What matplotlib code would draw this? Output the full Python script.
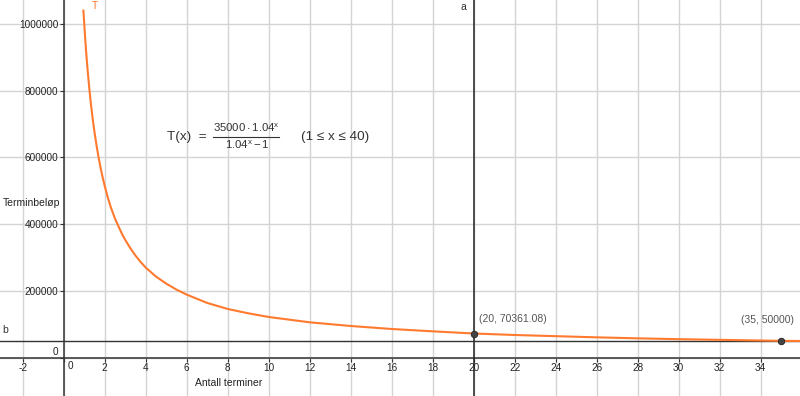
"""Terminbeløp T(x) plotted against antall terminer, GeoGebra style."""

import matplotlib

matplotlib.use("Agg")
import matplotlib.pyplot as plt

# Curve points (x = antall terminer, y = terminbeløp)
CURVE_X = [0.96, 1.0, 1.05, 1.1, 1.17, 1.25, 1.33, 1.42, 1.5, 1.6, 1.7, 1.8,
           1.9, 2.0, 2.15, 2.3, 2.5, 2.66, 2.85, 3.0, 3.25, 3.5, 3.75, 4,
           4.5, 5, 5.5, 6, 7, 8, 9, 10, 12, 14, 16, 18, 20, 22, 24, 26, 28,
           30, 32, 34, 35, 36]
CURVE_Y = [1040000, 1000000, 953000, 911000, 858000, 805000, 758000, 712000,
           676000, 636000, 600000, 568000, 540000, 514000, 480000, 450000,
           417000, 395000, 370000, 353000, 328000, 306000, 287000, 270000,
           243000, 222000, 204000, 189000, 164000, 146000, 133000, 122000,
           106000, 95000, 86000, 79000, 72500, 68000, 64500, 61000, 58000,
           55500, 53500, 51500, 50500, 50000]

# Marked points and their labels
POINTS_X = [20, 35]
POINTS_Y = [70361.08, 50000]
POINT_LABELS = ["(20, 70361.08)", "(35, 50000)"]

# Lines a (vertical) and b (horizontal)
LINE_A_X = 20
LINE_B_Y = 50000

X_TICKS = list(range(-2, 36, 2))
Y_TICKS = [0, 200000, 400000, 600000, 800000, 1000000]

ORANGE = "#ff7a2e"
DARK = "#333333"


def main() -> None:
    """Draw the chart and save it as out.png."""
    plt.rcParams["font.family"] = ["Liberation Sans", "DejaVu Sans"]
    plt.rcParams["mathtext.fontset"] = "custom"
    plt.rcParams["mathtext.rm"] = "Liberation Sans"
    plt.rcParams["mathtext.it"] = "Liberation Sans:italic"
    plt.rcParams["mathtext.fallback"] = "stixsans"

    fig = plt.figure(figsize=(8, 3.96), dpi=100)
    ax = fig.add_axes([0, 0, 1, 1])
    ax.set_xlim(-3.11, 35.92)
    ax.set_ylim(-114800, 1071900)

    # Axes cross at the origin, like a GeoGebra graphics view
    for side in ("top", "right"):
        ax.spines[side].set_visible(False)
    ax.spines["left"].set_position(("data", 0))
    ax.spines["bottom"].set_position(("data", 0))
    for side in ("left", "bottom"):
        ax.spines[side].set_color(DARK)
        ax.spines[side].set_linewidth(1.1)

    ax.set_xticks(X_TICKS)
    ax.set_xticklabels(["" if t == 0 else str(t) for t in X_TICKS])
    ax.set_yticks(Y_TICKS)
    ax.set_yticklabels(["" if t == 0 else str(t) for t in Y_TICKS])
    ax.tick_params(axis="both", direction="out", length=3, width=0.8,
                   color=DARK, labelsize=7.2, labelcolor="#222222")
    ax.tick_params(axis="x", pad=1)
    ax.tick_params(axis="y", pad=1)
    ax.grid(True, color="#d4d4d4", linewidth=1.0)
    ax.set_axisbelow(True)

    # Origin labels sit off the axes, not on a tick
    ax.annotate("0", (0, 0), xytext=(4.8, -6), textcoords="offset points",
                ha="center", va="center", fontsize=7.2, color="#222222")
    ax.annotate("0", (0, 0), xytext=(-6.3, 4.3), textcoords="offset points",
                ha="center", va="center", fontsize=7.2, color="#222222")

    # Lines a and b
    ax.axvline(LINE_A_X, color="#222222", linewidth=1.1, zorder=3)
    ax.axhline(LINE_B_Y, color=DARK, linewidth=1.0, zorder=3)
    ax.text(19.48, 1051000, "a", fontsize=7.5, color=DARK,
            ha="center", va="center")
    ax.text(-2.86, 83000, "b", fontsize=7.5, color=DARK,
            ha="center", va="center")

    # The function graph
    ax.plot(CURVE_X, CURVE_Y, color=ORANGE, linewidth=1.5, zorder=4,
            solid_joinstyle="round")
    ax.text(1.53, 1054000, "T", fontsize=7.5, color=ORANGE,
            ha="center", va="center")

    ax.scatter(POINTS_X, POINTS_Y, s=22, color="#444444",
               edgecolors="#222222", linewidths=0.6, zorder=5)
    ax.annotate(POINT_LABELS[0], (POINTS_X[0], POINTS_Y[0]),
                xytext=(3.5, 11), textcoords="offset points",
                ha="left", va="center", fontsize=7.5, color="#555555")
    ax.annotate(POINT_LABELS[1], (POINTS_X[1], POINTS_Y[1]),
                xytext=(-29, 15), textcoords="offset points",
                ha="left", va="center", fontsize=7.5, color="#555555")

    # Function definition written into the view: left side, fraction, domain
    ax.text(5.02, 661400, "T(x)  =", fontsize=9.7, color=DARK,
            ha="left", va="center")
    ax.text(8.89, 688300, r"$\mathrm{35000\cdot1.04^{x}}$", fontsize=8.2,
            color=DARK, ha="center", va="center")
    ax.text(8.95, 637400, r"$\mathrm{1.04^{x}-1}$", fontsize=8.2,
            color=DARK, ha="center", va="center")
    ax.plot([7.3, 10.5], [660500, 660500], color=DARK, linewidth=0.8)
    ax.text(11.56, 661400, "(1 ≤ x ≤ 40)", fontsize=9.7, color=DARK,
            ha="left", va="center")

    ax.text(-2.96, 463600, "Terminbeløp", fontsize=7.5, color="#222222",
            ha="left", va="center")
    ax.text(6.41, -75800, "Antall terminer", fontsize=7.5, color="#222222",
            ha="left", va="center")

    fig.savefig("out.png", dpi=100)
    plt.close(fig)


if __name__ == "__main__":
    main()
